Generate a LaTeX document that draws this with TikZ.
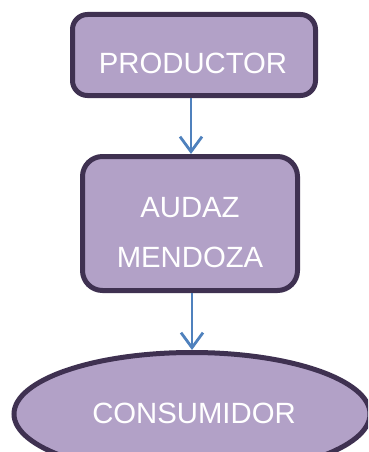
\documentclass[tikz,border=0pt]{standalone}
\usepackage{fontspec}
\setmainfont{Liberation Sans}
\usetikzlibrary{arrows.meta,shapes.geometric}
\definecolor{boxfill}{HTML}{B2A1C7}
\definecolor{boxline}{HTML}{3F3151}
\definecolor{arrowblue}{HTML}{4F81BD}
\tikzset{
  box/.style={draw=boxline,fill=boxfill,line width=5pt,inner sep=0pt},
  lbl/.style={text=white,font=\fontsize{29.3}{50}\selectfont,align=center,inner sep=0pt},
  conn/.style={draw=arrowblue,line width=2.8pt,-{Straight Barb[length=15pt,width=22pt,line width=2.8pt]}}
}
\begin{document}
\begin{tikzpicture}[x=1pt,y=1pt]
\useasboundingbox (0,0) rectangle (368,-452);
\clip (0,0) rectangle (368,-452);
\node[box,rounded corners=15pt,minimum width=243pt,minimum height=81pt] (p) at (194,-55) {};
\node[lbl] (pt) at (193,-63.7) {PRODUCTOR};
\node[box,rounded corners=20pt,minimum width=215pt,minimum height=134pt] (a) at (190,-223.5) {};
\node[lbl] (at) at (190,-233) {AUDAZ\\MENDOZA};
\node[box,ellipse,minimum width=356pt,minimum height=123pt] (c) at (192,-414) {};
\node[lbl] (ct) at (194,-413.7) {CONSUMIDOR};
\draw[conn] (p.south -| 191,0) -- (a.north -| 191,0);
\draw[conn] (a.south -| 192,0) -- (c.north -| 192,0);
\end{tikzpicture}
\end{document}
